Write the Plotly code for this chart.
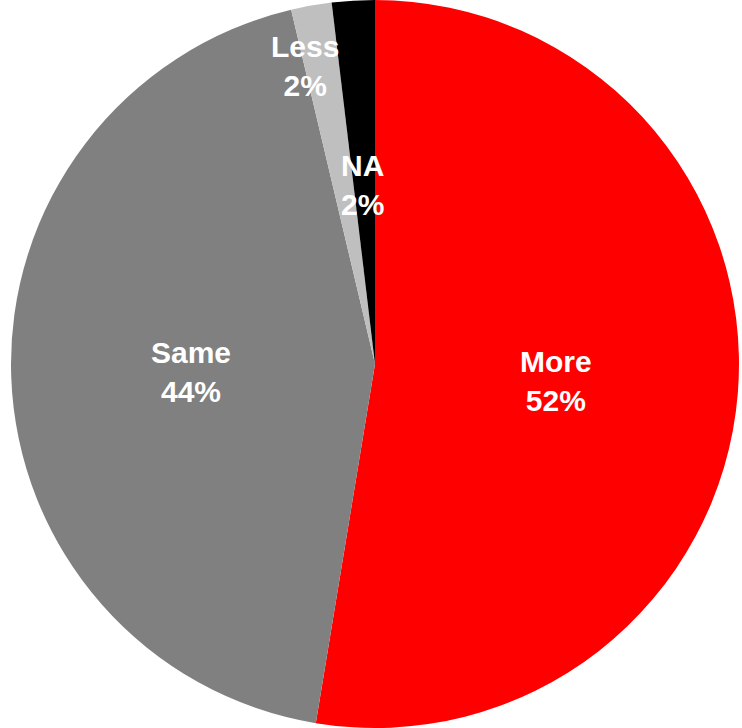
import plotly.graph_objects as go

labels = ["More", "Same", "Less", "NA"]
values = [52.6, 43.7, 1.8, 1.9]
pct_text = ["52%", "44%", "2%", "2%"]
colors = ["#ff0000", "#808080", "#bfbfbf", "#000000"]

# label anchor points (paper coords), matching the reference layout
label_x = [0.749, 0.257, 0.411, 0.489]
label_y = [0.477, 0.489, 0.909, 0.746]

fig = go.Figure(
    go.Pie(
        labels=labels,
        values=values,
        marker=dict(colors=colors, line=dict(width=0)),
        sort=False,
        direction="clockwise",
        rotation=0,
        textinfo="none",
        hoverinfo="label+percent",
        domain=dict(x=[8 / 742, 1], y=[0, 1]),
        showlegend=False,
    )
)

for lab, pct, x, y in zip(labels, pct_text, label_x, label_y):
    fig.add_annotation(
        x=x,
        y=y,
        xref="paper",
        yref="paper",
        xanchor="center",
        yanchor="middle",
        text=f"<b>{lab}<br>{pct}</b>",
        showarrow=False,
        font=dict(family="Liberation Sans, Arial", size=30, color="white"),
        align="center",
    )

fig.update_layout(
    width=742,
    height=728,
    margin=dict(l=0, r=0, t=0, b=0),
    paper_bgcolor="white",
    plot_bgcolor="white",
)

fig.write_html(
    "out.html",
    config={"displayModeBar": False},
    post_script="document.body.style.margin='0';",
)
